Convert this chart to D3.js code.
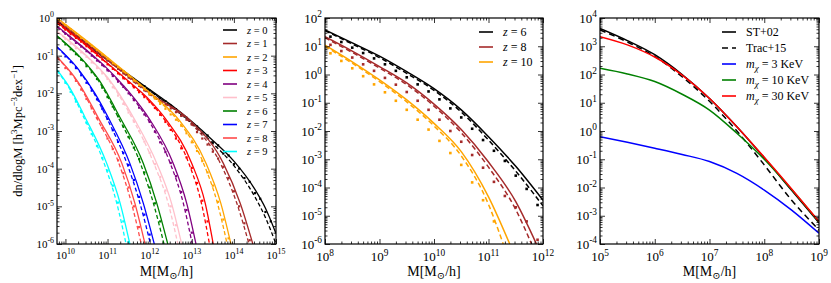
<!DOCTYPE html>
<html>
<head>
<meta charset="utf-8">
<script src="https://cdn.jsdelivr.net/npm/d3@7"></script>
<style>
  body { margin: 0; background: #fff; }
  svg { display: block; }
</style>
</head>
<body>
<svg id="chart" width="831" height="283" font-family="'Liberation Serif', 'Times New Roman', Times, 'DejaVu Serif', serif"></svg>
<script>

// ---- data (all values are log10) ----

// left panel: halo mass function for z = 0..9
const p1Redshifts = [0, 1, 2, 3, 4, 5, 6, 7, 8, 9];
const p1Colors = ["#000000", "#a52a2a", "#ffa500", "#ff0000", "#800080",
                  "#ffc0cb", "#008000", "#0000ff", "#ff4a4a", "#00ffff"];

const p1Solid = [
  [[9.8,-0.08],[10.5,-0.68],[11,-1.1],[11.5,-1.5],[12,-1.9],[12.5,-2.3],[13,-2.75],[13.5,-3.25],[14,-3.8],[14.5,-4.55],[14.75,-5.05],[15,-5.72]],
  [[9.8,-0.05],[10.5,-0.66],[11,-1.1],[11.5,-1.55],[12,-2.0],[12.95,-2.71],[13.75,-3.86],[14.15,-4.92],[14.45,-6]],
  [[9.8,0],[10.5,-0.6],[11,-1.05],[11.5,-1.5],[12,-1.98],[12.7,-2.71],[13.34,-3.86],[13.69,-4.92],[13.93,-6]],
  [[9.8,-0.12],[10.5,-0.72],[11,-1.2],[11.5,-1.68],[12,-2.18],[12.4,-2.71],[13.0,-3.86],[13.32,-4.92],[13.51,-6]],
  [[9.8,-0.22],[10.5,-0.85],[11,-1.35],[11.5,-1.95],[12.01,-2.71],[12.56,-3.86],[12.88,-4.92],[13.1,-6]],
  [[9.8,-0.35],[10.5,-1.0],[11,-1.58],[11.65,-2.71],[12.17,-3.86],[12.52,-4.92],[12.76,-6]],
  [[9.8,-0.47],[10.3,-0.98],[10.8,-1.65],[11.3,-2.65],[11.85,-3.86],[12.17,-4.92],[12.43,-6]],
  [[9.8,-0.76],[10.3,-1.35],[10.7,-2.0],[11.02,-2.65],[11.53,-3.86],[11.85,-4.92],[12.11,-6]],
  [[9.8,-1.03],[10.3,-1.7],[10.78,-2.65],[11.34,-3.86],[11.65,-4.92],[11.89,-6]],
  [[9.8,-1.38],[10.1,-1.85],[10.45,-2.6],[10.98,-3.86],[11.3,-4.92],[11.53,-6]]
];

const p1Dashed = [
  [[9.8,-0.1],[10.5,-0.7],[11,-1.12],[11.5,-1.53],[12,-1.93],[12.5,-2.34],[13,-2.8],[13.5,-3.33],[14,-3.92],[14.5,-4.75],[14.75,-5.3],[15,-6.0]],
  [[9.8,-0.07],[10.5,-0.68],[11,-1.12],[11.5,-1.58],[12,-2.03],[12.9,-2.71],[13.68,-3.86],[14.07,-4.92],[14.36,-6]],
  [[9.8,-0.02],[10.5,-0.62],[11,-1.07],[11.5,-1.53],[12,-2.01],[12.66,-2.71],[13.28,-3.86],[13.61,-4.92],[13.84,-6]],
  [[9.8,-0.14],[10.5,-0.74],[11,-1.22],[11.5,-1.71],[12,-2.22],[12.36,-2.71],[12.93,-3.86],[13.23,-4.92],[13.42,-6]],
  [[9.8,-0.24],[10.5,-0.87],[11,-1.38],[11.5,-1.99],[11.97,-2.71],[12.49,-3.86],[12.8,-4.92],[13.01,-6]],
  [[9.8,-0.37],[10.5,-1.02],[11,-1.61],[11.61,-2.71],[12.1,-3.86],[12.44,-4.92],[12.67,-6]],
  [[9.8,-0.49],[10.3,-1.0],[10.8,-1.69],[11.26,-2.65],[11.78,-3.86],[12.09,-4.92],[12.34,-6]],
  [[9.8,-0.78],[10.3,-1.37],[10.7,-2.04],[10.98,-2.65],[11.46,-3.86],[11.77,-4.92],[12.02,-6]],
  [[9.8,-1.05],[10.3,-1.73],[10.74,-2.65],[11.27,-3.86],[11.57,-4.92],[11.8,-6]],
  [[9.8,-1.4],[10.1,-1.88],[10.42,-2.6],[10.92,-3.86],[11.22,-4.92],[11.44,-6]]
];

// simulation points, on a common mass grid (each series stops where it leaves the plot)
const p1DotMass = [10, 10.125, 10.25, 10.375, 10.5, 10.625, 10.75, 10.875, 11, 11.125,
                   11.25, 11.375, 11.5, 11.625, 11.75, 11.875, 12, 12.125, 12.25, 12.375,
                   12.5, 12.625, 12.75, 12.875, 13, 13.125, 13.25, 13.375, 13.5, 13.625,
                   13.75, 13.875, 14, 14.125, 14.25, 14.375, 14.5, 14.625, 14.75, 14.875];
const p1Dots = [
  [-0.27,-0.38,-0.5,-0.59,-0.7,-0.8,-0.92,-1.02,-1.12,-1.22,-1.33,-1.42,-1.53,-1.62,-1.73,-1.81,-1.93,-2.02,-2.13,-2.21,
   -2.33,-2.42,-2.57,-2.65,-2.8,-2.88,-3.05,-3.12,-3.3,-3.38,-3.6,-3.65,-3.88,-4.0,-4.25,-4.35,-4.65,-4.8,-5.15,-5.4],
  [-0.25,-0.36,-0.48,-0.57,-0.68,-0.8,-0.9,-1.02,-1.13,-1.23,-1.35,-1.47,-1.58,-1.68,-1.8,-1.92,-2.03,-2.11,-2.22,-2.3,
   -2.4,-2.5,-2.6,-2.7,-2.83,-3.03,-3.2,-3.36,-3.55,-3.73,-3.95,-4.25,-4.6,-5.0,-5.45,-5.9],
  [-0.19,-0.3,-0.41,-0.53,-0.63,-0.74,-0.85,-0.97,-1.08,-1.2,-1.3,-1.41,-1.53,-1.66,-1.78,-1.89,-2.02,-2.14,-2.28,-2.41,
   -2.56,-2.7,-2.86,-3.06,-3.3,-3.53,-3.8,-4.1,-4.45,-4.88,-5.35,-5.85],
  [-0.31,-0.43,-0.53,-0.63,-0.75,-0.88,-0.99,-1.1,-1.23,-1.35,-1.47,-1.6,-1.72,-1.84,-1.97,-2.1,-2.23,-2.39,-2.57,-2.76,
   -2.97,-3.2,-3.46,-3.7,-3.98,-4.38,-4.85,-5.4],
  [-0.42,-0.55,-0.66,-0.76,-0.88,-1.0,-1.13,-1.25,-1.39,-1.54,-1.69,-1.83,-2.0,-2.18,-2.38,-2.56,-2.76,-3.02,-3.3,-3.56,
   -3.85,-4.2,-4.62,-5.1,-5.7],
  [-0.56,-0.68,-0.8,-0.91,-1.03,-1.18,-1.33,-1.47,-1.62,-1.84,-2.06,-2.28,-2.51,-2.75,-3.0,-3.28,-3.58,-3.88,-4.22,-4.58,
   -5.0,-5.5],
  [-0.7,-0.83,-0.96,-1.11,-1.28,-1.44,-1.62,-1.85,-2.1,-2.35,-2.61,-2.88,-3.16,-3.44,-3.74,-4.1,-4.5,-4.92,-5.4],
  [-1.02,-1.17,-1.33,-1.52,-1.72,-1.93,-2.16,-2.41,-2.68,-2.98,-3.29,-3.58,-3.9,-4.3,-4.75,-5.22,-5.75],
  [-1.33,-1.49,-1.67,-1.9,-2.15,-2.4,-2.66,-2.92,-3.2,-3.48,-3.78,-4.12,-4.5,-5.0,-5.55],
  [-1.72,-1.96,-2.22,-2.49,-2.78,-3.08,-3.4,-3.72,-4.05,-4.45,-4.9,-5.4,-5.95]
];

// middle panel: z = 6, 8, 10
const p2Redshifts = [6, 8, 10];
const p2Colors = ["#000000", "#a52a2a", "#ffa500"];
const p2Solid = [
  [[8,1.58],[8.5,1.12],[9,0.65],[9.5,0.1],[10,-0.5],[10.5,-1.25],[11,-2.2],[11.5,-3.25],[12,-4.45]],
  [[8,1.34],[8.5,0.83],[9,0.28],[9.5,-0.3],[10,-1.05],[10.5,-1.95],[11,-3.1],[11.5,-4.5],[11.88,-6]],
  [[8,1.04],[8.5,0.45],[9,-0.19],[9.5,-0.9],[10,-1.73],[10.5,-2.73],[11,-4.33],[11.39,-6]]
];
const p2Dashed = [
  [[8,1.55],[8.5,1.08],[9,0.6],[9.5,0.04],[10,-0.56],[10.5,-1.33],[11,-2.32],[11.5,-3.42],[12,-4.65]],
  [[8,1.3],[8.5,0.78],[9,0.23],[9.5,-0.36],[10,-1.12],[10.5,-2.06],[11,-3.28],[11.5,-4.78],[11.79,-6]],
  [[8,1.0],[8.5,0.4],[9,-0.25],[9.5,-0.97],[10,-1.82],[10.5,-2.88],[11,-4.6],[11.27,-6]]
];
const p2DotMass = [8.1, 8.3, 8.5, 8.7, 8.9, 9.1, 9.3, 9.5, 9.7, 9.9,
                   10.1, 10.3, 10.5, 10.7, 10.9, 11.1, 11.3, 11.5, 11.7, 11.9];
const p2Dots = [
  [1.34,1.15,0.95,0.76,0.57,0.36,0.13,-0.1,-0.35,-0.6,-0.88,-1.2,-1.52,-1.92,-2.32,-2.7,-3.06,-3.58,-4.05,-4.62],
  [1.05,0.83,0.6,0.36,0.13,-0.12,-0.36,-0.62,-0.93,-1.25,-1.6,-2.0,-2.38,-2.85,-3.3,-3.8,-4.3,-4.7,-5.2,-5.85],
  [0.75,0.48,0.22,-0.06,-0.35,-0.63,-0.93,-1.25,-1.6,-1.95,-2.35,-2.78,-3.2,-3.82,-4.45,-5.2]
];

// right panel: CDM fits and WDM models
const p3Labels = ["ST+02", "Trac+15", "3", "10", "30"];
const p3Colors = ["#000000", "#000000", "#0000ff", "#008000", "#ff0000"];
const p3Curves = [
  [[5,3.63],[5.5,3.2],[6,2.7],[6.5,2.0],[7,1.15],[7.5,0.15],[8,-0.95],[8.5,-2.1],[9,-3.25]],
  [[5,3.58],[5.5,3.15],[6,2.64],[6.5,1.92],[7,1.05],[7.5,0.0],[8,-1.2],[8.5,-2.45],[9,-3.5]],
  [[5,-0.2],[5.5,-0.4],[6,-0.61],[6.5,-0.83],[7,-1.08],[7.5,-1.5],[8,-2.09],[8.5,-2.8],[9,-3.62]],
  [[5,2.22],[5.5,2.02],[6,1.75],[6.5,1.3],[7,0.74],[7.5,-0.08],[8,-1.0],[8.5,-2.07],[9,-3.22]],
  [[5,3.34],[5.5,3.05],[6,2.62],[6.5,1.98],[7,1.15],[7.5,0.15],[8,-0.93],[8.5,-2.05],[9,-3.2]]
];

// ---- layout ----
const svg = d3.select("#chart");
const TOP = 18, BOTTOM = 244;

const panels = [
  { id: 1, left: 57,  right: 276, x: [9.8, 15], y: [-6, 0], xMaj: d3.range(10, 16), yMaj: d3.range(-6, 1), fs: 11 },
  { id: 2, left: 325, right: 543, x: [8, 12],   y: [-6, 2], xMaj: d3.range(8, 13),  yMaj: d3.range(-6, 3), fs: 13 },
  { id: 3, left: 600, right: 819, x: [5, 9],    y: [-4, 4], xMaj: d3.range(5, 10),  yMaj: d3.range(-4, 5), fs: 13 }
];

function minors(lo, hi) {
  const out = [];
  for (let k = Math.floor(lo); k < Math.ceil(hi); k++)
    for (let m = 2; m < 10; m++) {
      const v = m * 10 ** k;
      if (v > 10 ** lo && v < 10 ** hi) out.push(v);
    }
  return out;
}

function powLabel(sel, exp, fs) {
  sel.append("tspan").text("10");
  sel.append("tspan").attr("dy", -fs * 0.42).attr("font-size", fs * 0.72).text(exp);
}

function setup(p) {
  p.xs = d3.scaleLog().domain([10 ** p.x[0], 10 ** p.x[1]]).range([p.left, p.right]);
  p.ys = d3.scaleLog().domain([10 ** p.y[0], 10 ** p.y[1]]).range([BOTTOM, TOP]);
  p.g = svg.append("g");

  p.g.append("clipPath").attr("id", "clip" + p.id)
    .append("rect").attr("x", p.left).attr("y", TOP)
    .attr("width", p.right - p.left).attr("height", BOTTOM - TOP);
  p.plot = p.g.append("g").attr("clip-path", `url(#clip${p.id})`);

  p.line = d3.line()
    .x(d => p.xs(10 ** d[0]))
    .y(d => p.ys(10 ** d[1]))
    .curve(d3.curveMonotoneX);

  // inward ticks on all four sides
  const xMajV = p.xMaj.map(v => 10 ** v), yMajV = p.yMaj.map(v => 10 ** v);
  const xMinV = minors(p.x[0], p.x[1]), yMinV = minors(p.y[0], p.y[1]);
  const axes = [
    [d3.axisBottom, p.xs, `translate(0,${BOTTOM})`, xMajV, xMinV],
    [d3.axisTop,    p.xs, `translate(0,${TOP})`,    xMajV, xMinV],
    [d3.axisLeft,   p.ys, `translate(${p.left},0)`, yMajV, yMinV],
    [d3.axisRight,  p.ys, `translate(${p.right},0)`, yMajV, yMinV]
  ];
  axes.forEach(([fn, sc, tr, maj, mn]) => {
    [[maj, 5], [mn, 2.5]].forEach(([vals, len]) => {
      const a = p.g.append("g").attr("transform", tr)
        .call(fn(sc).tickValues(vals).tickSize(-len).tickFormat(""));
      a.select(".domain").remove();
      a.selectAll("line").attr("stroke", "#000").attr("stroke-width", 0.8);
    });
  });

  p.g.append("rect").attr("x", p.left).attr("y", TOP)
    .attr("width", p.right - p.left).attr("height", BOTTOM - TOP)
    .attr("fill", "none").attr("stroke", "#000").attr("stroke-width", 1.2);

  // tick labels
  p.xMaj.forEach(v => {
    const t = p.g.append("text").attr("x", p.xs(10 ** v)).attr("y", BOTTOM + p.fs + 4)
      .attr("text-anchor", "middle").attr("font-size", p.fs);
    powLabel(t, v, p.fs);
  });
  p.yMaj.forEach(v => {
    const t = p.g.append("text").attr("x", p.left - 3).attr("y", p.ys(10 ** v) + p.fs * 0.35)
      .attr("text-anchor", "end").attr("font-size", p.fs);
    powLabel(t, v, p.fs);
  });

  // x axis title
  const xl = p.g.append("text").attr("x", (p.left + p.right) / 2).attr("y", 276)
    .attr("text-anchor", "middle").attr("font-size", 14);
  xl.append("tspan").text("M[M");
  xl.append("tspan").attr("dy", 3).attr("font-size", 10).text("\u2299");
  xl.append("tspan").attr("dy", -3).text("/h]");
}

panels.forEach(setup);

// y axis title (left only)
const yl = svg.append("text")
  .attr("transform", `translate(22,${(TOP + BOTTOM) / 2}) rotate(-90)`)
  .attr("text-anchor", "middle").attr("font-size", 12.5);
yl.append("tspan").text("dn/dlogM [h");
yl.append("tspan").attr("dy", -5).attr("font-size", 9).text("3");
yl.append("tspan").attr("dy", 5).text("Mpc");
yl.append("tspan").attr("dy", -5).attr("font-size", 9).text("\u22123");
yl.append("tspan").attr("dy", 5).text("dex");
yl.append("tspan").attr("dy", -5).attr("font-size", 9).text("\u22121");
yl.append("tspan").attr("dy", 5).text("]");

function zLegend(p, i, label, color, x0, y0, dy, fs) {
  const y = y0 + i * dy;
  p.g.append("line").attr("x1", x0).attr("x2", x0 + 14).attr("y1", y).attr("y2", y)
    .attr("stroke", color).attr("stroke-width", 1.6);
  const t = p.g.append("text").attr("x", x0 + 24).attr("y", y + fs * 0.35).attr("font-size", fs);
  t.append("tspan").attr("font-style", "italic").text("z");
  t.append("tspan").text(" = " + label);
}

// ---- panel 1 ----
const P1 = panels[0];
p1Redshifts.forEach((z, i) => {
  P1.plot.append("path").datum(p1Solid[i]).attr("d", P1.line)
    .attr("fill", "none").attr("stroke", p1Colors[i]).attr("stroke-width", 1.3);
  P1.plot.append("path").datum(p1Dashed[i]).attr("d", P1.line)
    .attr("fill", "none").attr("stroke", p1Colors[i]).attr("stroke-width", 1.3)
    .attr("stroke-dasharray", "4,2.5");
  P1.plot.selectAll(null).data(p1Dots[i]).enter().append("rect")
    .attr("x", (d, j) => P1.xs(10 ** p1DotMass[j]) - 1.1)
    .attr("y", d => P1.ys(10 ** d) - 1.1)
    .attr("width", 2.2).attr("height", 2.2)
    .attr("fill", p1Colors[i]);
});
p1Redshifts.forEach((z, i) => zLegend(P1, i, z, p1Colors[i], 223, 30, 13.5, 10.5));

// ---- panel 2 ----
const P2 = panels[1];
p2Redshifts.forEach((z, i) => {
  P2.plot.append("path").datum(p2Solid[i]).attr("d", P2.line)
    .attr("fill", "none").attr("stroke", p2Colors[i]).attr("stroke-width", 1.5);
  P2.plot.append("path").datum(p2Dashed[i]).attr("d", P2.line)
    .attr("fill", "none").attr("stroke", p2Colors[i]).attr("stroke-width", 1.5)
    .attr("stroke-dasharray", "5,3");
  P2.plot.selectAll(null).data(p2Dots[i]).enter().append("rect")
    .attr("x", (d, j) => P2.xs(10 ** p2DotMass[j]) - 1.3)
    .attr("y", d => P2.ys(10 ** d) - 1.3)
    .attr("width", 2.6).attr("height", 2.6)
    .attr("fill", p2Colors[i]);
  zLegend(P2, i, z, p2Colors[i], 479, 32, 15, 12);
});

// ---- panel 3 ----
const P3 = panels[2];
p3Curves.forEach((c, i) => {
  P3.plot.append("path").datum(c).attr("d", P3.line)
    .attr("fill", "none").attr("stroke", p3Colors[i]).attr("stroke-width", 1.5)
    .attr("stroke-dasharray", i === 1 ? "6,4" : null);
});
p3Labels.forEach((lab, k) => {
  const y = 32 + k * 16;
  P3.g.append("line").attr("x1", 722).attr("x2", 736).attr("y1", y).attr("y2", y)
    .attr("stroke", p3Colors[k]).attr("stroke-width", 1.6)
    .attr("stroke-dasharray", k === 1 ? "6,4" : null);
  const t = P3.g.append("text").attr("x", 746).attr("y", y + 4.2).attr("font-size", 12);
  if (k < 2) {
    t.text(lab);
  } else {
    t.append("tspan").attr("font-style", "italic").text("m");
    t.append("tspan").attr("dy", 3).attr("font-size", 9).attr("font-style", "italic").text("\u03c7");
    t.append("tspan").attr("dy", -3).text(" = " + lab + " KeV");
  }
});

</script>
</body>
</html>
